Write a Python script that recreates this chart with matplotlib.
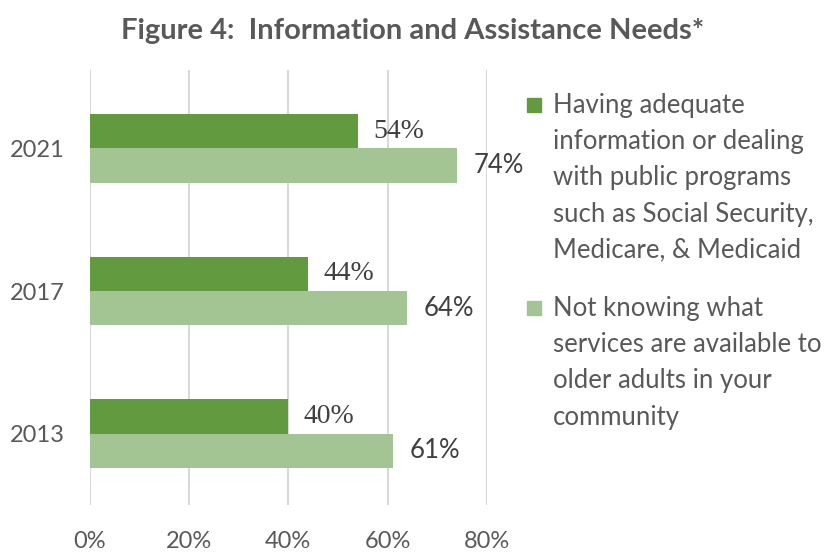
import numpy as np
import matplotlib.pyplot as plt
from matplotlib.patches import Rectangle

years = ["2013", "2017", "2021"]
adequate_info = [40, 44, 54]
not_knowing = [61, 64, 74]
x_ticks = [0, 20, 40, 60, 80]
legend_labels = [
    "Having adequate\ninformation or dealing\nwith public programs\nsuch as Social Security,\nMedicare, & Medicaid",
    "Not knowing what\nservices are available to\nolder adults in your\ncommunity",
]

DARK = "#629A3F"
LIGHT = "#A3C594"
TEXT = "#595959"

plt.rcParams["font.family"] = ["Lato", "DejaVu Sans"]

fig = plt.figure(figsize=(8.25, 5.52), dpi=100)
ax = fig.add_axes([0.109, 0.0851, 0.481, 0.788])

y = np.arange(len(years))
h = 0.24
ax.barh(y + h / 2, adequate_info, height=h, color=DARK, zorder=2)
ax.barh(y - h / 2, not_knowing, height=h, color=LIGHT, zorder=2)

for yi, v in zip(y, adequate_info):
    ax.annotate(f"{v}%", (v, yi + h / 2), xytext=(11, 0), textcoords="offset points",
                va="center", ha="left", fontsize=20, color="#404040",
                family="Liberation Serif")
for yi, v in zip(y, not_knowing):
    ax.annotate(f"{v}%", (v, yi - h / 2), xytext=(12, 0), textcoords="offset points",
                va="center", ha="left", fontsize=18.5, color="#404040")

ax.set_xlim(0, 80)
ax.set_ylim(-0.5, 2.55)
ax.set_xticks(x_ticks)
ax.set_xticklabels([f"{t}%" for t in x_ticks])
ax.set_yticks(y)
ax.set_yticklabels(years)
ax.tick_params(axis="both", length=0, labelsize=17, colors=TEXT)
ax.tick_params(axis="x", pad=19)
ax.tick_params(axis="y", pad=18)
ax.grid(axis="x", color="#D9D9D9", linewidth=1.5, zorder=0)
for s in ax.spines.values():
    s.set_visible(False)

fig.text(0.5, 0.943, "Figure 4:  Information and Assistance Needs*",
         ha="center", va="center", fontsize=21, fontweight="bold", color=TEXT)

# legend drawn by hand so the swatch sits on the first line
leg_colors = [DARK, LIGHT]
leg_tops = [93, 296]
for col, top, lab in zip(leg_colors, leg_tops, legend_labels):
    fig.patches.append(Rectangle((527 / 825, 1 - (top + 19) / 552), 14 / 825, 14 / 552,
                                 transform=fig.transFigure, color=col))
    fig.text(553 / 825, 1 - top / 552, lab, ha="left", va="top", fontsize=18.5,
             color=TEXT, linespacing=1.56)

fig.savefig("out.png", dpi=100)
